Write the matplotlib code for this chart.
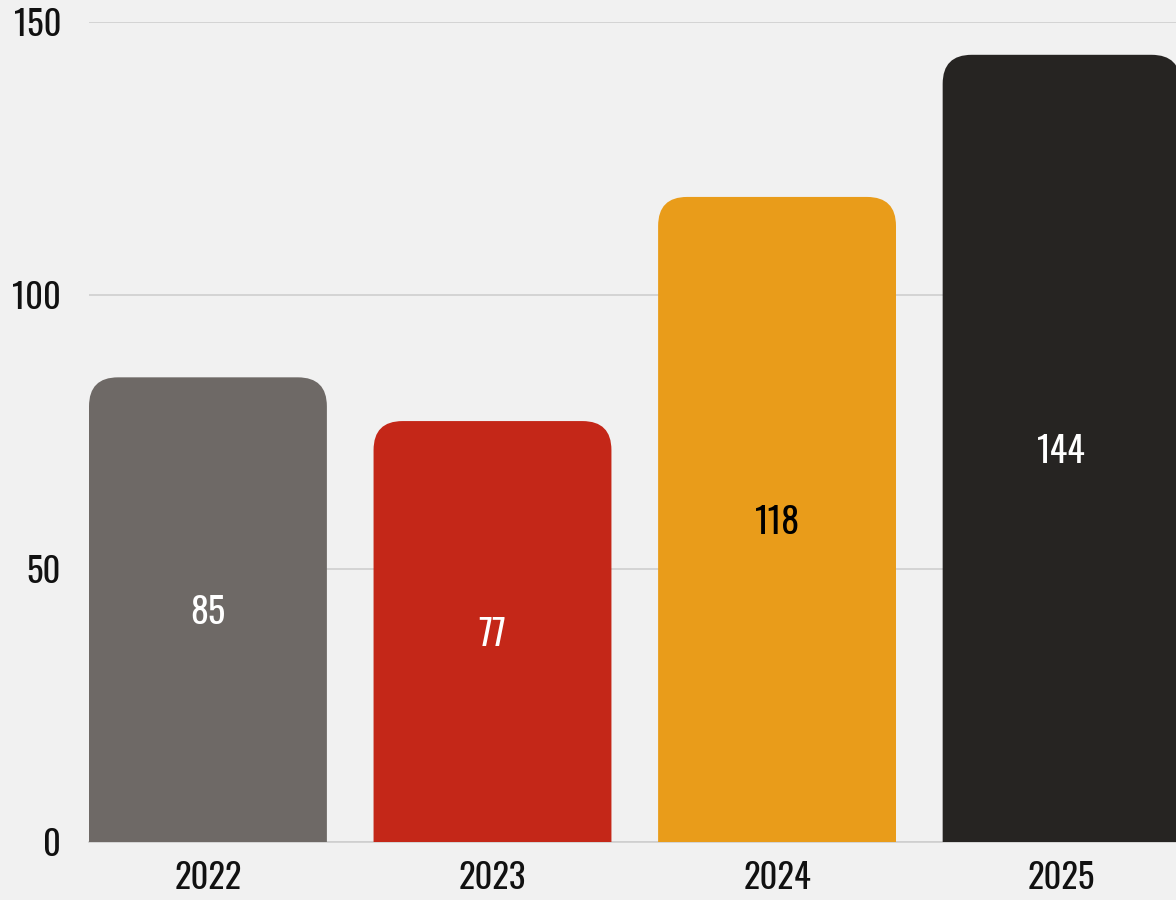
import matplotlib
matplotlib.use("Agg")
import matplotlib.pyplot as plt
from matplotlib.patches import FancyBboxPatch
from matplotlib import font_manager

years = ["2022", "2023", "2024", "2025"]
values = [85, 77, 118, 144]
bar_colors = ["#6e6966", "#c42718", "#e99c1a", "#262422"]
label_colors = ["white", "white", "black", "white"]
yticks = [0, 50, 100, 150]

# look for a narrow font file, the reference uses a condensed face
font_file = None
for key in ["Oswald", "RobotoCondensed", "Roboto_Condensed", "LiberationSansNarrow",
            "DejaVuSansCondensed.ttf", "Condensed", "Narrow"]:
    for f in font_manager.fontManager.ttflist:
        if key in f.fname.replace(" ", "") and "Bold" not in f.fname and "Oblique" not in f.fname:
            font_file = f.fname
            break
    if font_file:
        break

def fp(size):
    if font_file:
        return font_manager.FontProperties(fname=font_file, size=size)
    return font_manager.FontProperties(family="DejaVu Sans", stretch="condensed", size=size)

fig = plt.figure(figsize=(11.76, 9), dpi=100)
fig.patch.set_facecolor("#f1f1f1")
ax = fig.add_axes([89 / 1176, (900 - 842) / 900, (1176 - 89) / 1176, 820 / 900])
ax.set_facecolor("none")

ax.set_xlim(-0.418, 3.402)
ax.set_ylim(0, 150)

width = 0.836
# pixel sizes of one data unit, for round corners
px_x = 284.5
px_y = 820 / 150
radius = 29 / px_x
for i, (v, c) in enumerate(zip(values, bar_colors)):
    patch = FancyBboxPatch((i - width / 2, -20), width, v + 20,
                           boxstyle=f"round,pad=0,rounding_size={radius}",
                           mutation_aspect=px_x / px_y,
                           facecolor=c, edgecolor="none", zorder=3)
    ax.add_patch(patch)
    ax.text(i, v / 2 - 0.7, str(v), ha="center", va="center",
            fontproperties=fp(26), color=label_colors[i], zorder=4)

ax.set_yticks(yticks)
ax.set_yticklabels([str(t) for t in yticks])
ax.set_xticks(range(len(years)))
ax.set_xticklabels(years)
for lab in ax.get_xticklabels() + ax.get_yticklabels():
    lab.set_fontproperties(fp(25))
    lab.set_color("#111111")
ax.tick_params(axis="both", length=0)
ax.tick_params(axis="y", pad=20)
ax.tick_params(axis="x", pad=14)
ax.grid(axis="y", color="#cfcfcf", linewidth=1.2, zorder=0)
ax.set_axisbelow(True)
for s in ["top", "right", "left"]:
    ax.spines[s].set_visible(False)
ax.spines["bottom"].set_color("#cfcfcf")
ax.spines["bottom"].set_linewidth(1.2)

fig.savefig("out.png", dpi=100, facecolor=fig.get_facecolor())
